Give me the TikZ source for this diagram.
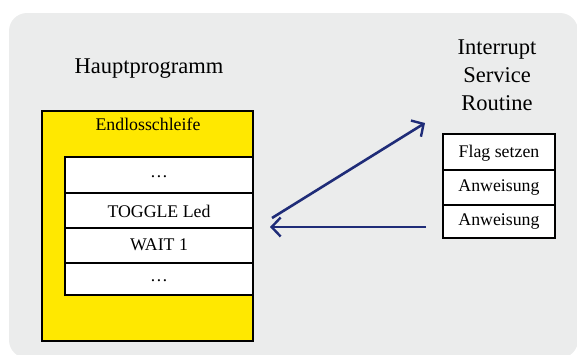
\documentclass[tikz,border=0pt]{standalone}
\usepackage{fontspec}
\setmainfont{Liberation Serif}
\usetikzlibrary{arrows.meta}
\definecolor{bggrey}{HTML}{EBECEC}
\definecolor{loopyellow}{HTML}{FFE800}
\definecolor{navy}{HTML}{1F2C78}
\tikzset{
  titletext/.style={font=\fontsize{22.5}{28}\selectfont, inner sep=0pt, align=center},
  rowtext/.style={font=\fontsize{17.8}{20}\selectfont, inner sep=0pt},
  rowbox/.style={draw=black, line width=1.5pt, fill=white},
  flow/.style={draw=navy, line width=2.6pt, -{Straight Barb[length=9pt,width=19pt,line width=2.4pt]}},
}
\begin{document}
\begin{tikzpicture}[x=1pt,y=-1pt]
\useasboundingbox (0,0) rectangle (577,354);
\begin{scope}
\clip (0,0) rectangle (577,354);
\fill[bggrey, rounded corners=18pt] (9,13) rectangle (578,358);
\end{scope}
% titles
\node[titletext] (hp) at (149,69) {Hauptprogramm};
\node[titletext] (isr) at (497,75) {Interrupt\\Service\\Routine};
% main loop
\draw[fill=loopyellow, line width=1.5pt] (42,111) rectangle (253,341);
\node[rowtext] (endl) at (148,124) {Endlosschleife};
\draw[rowbox] (65,157) rectangle (253,193);
\draw[rowbox] (65,193) rectangle (253,228);
\draw[rowbox] (65,228) rectangle (253,263);
\draw[rowbox] (65,263) rectangle (253,295);
\node[rowtext] (r1) at (159,177) {\dots};
\node[rowtext] (r2) at (159,211) {TOGGLE Led};
\node[rowtext] (r3) at (159,245) {WAIT 1};
\node[rowtext] (r4) at (159,281) {\dots};
% ISR box
\draw[rowbox] (443,134) rectangle (555,170);
\draw[rowbox] (443,170) rectangle (555,205);
\draw[rowbox] (443,205) rectangle (555,238);
\node[rowtext] (s1) at (499,153) {Flag setzen};
\node[rowtext] (s2) at (499,188) {Anweisung};
\node[rowtext] (s3) at (499,222) {Anweisung};
% arrows
\coordinate (a1s) at (272,218);
\coordinate (a1e) at (425,123);
\coordinate (a2s) at (426,227);
\coordinate (a2e) at (270,227);
\draw[flow] (a1s) -- (a1e);
\draw[flow] (a2s) -- (a2e);
\end{tikzpicture}
\end{document}
